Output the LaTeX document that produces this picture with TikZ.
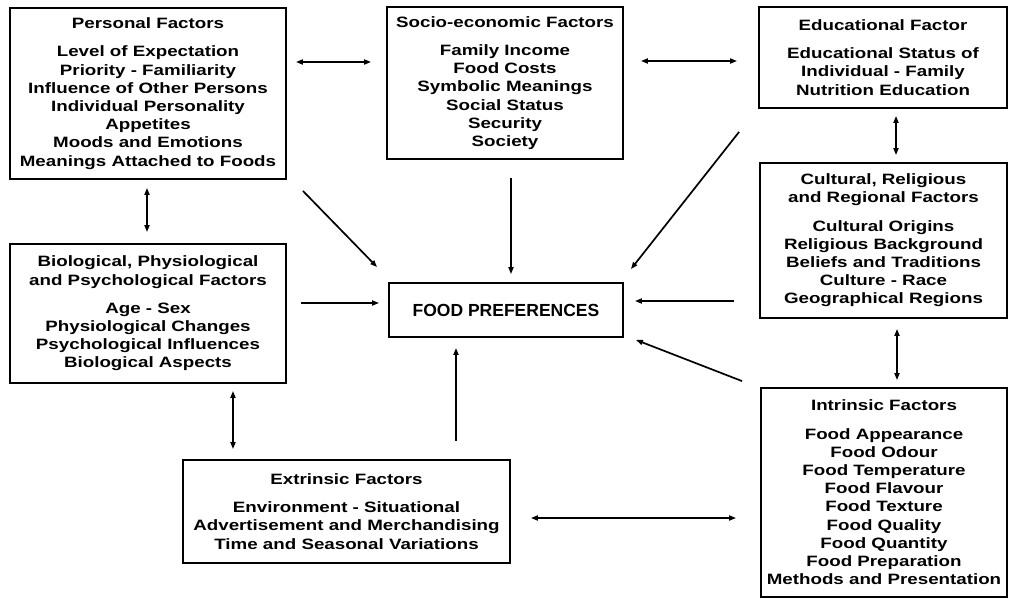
\documentclass[tikz,border=0pt]{standalone}
\usepackage{fontspec}
\newfontfamily\boxfont{Liberation Sans}[FakeStretch=1.25]
\newfontfamily\plainfont{Liberation Sans}
\usetikzlibrary{arrows.meta,calc}
\tikzset{
  box/.style={draw, line width=1.8pt, align=center, inner sep=0pt,
    font=\boxfont\bfseries\fontsize{15}{18.2}\selectfont},
  con/.style={line width=1.7pt, -{Triangle[length=7pt,width=5pt]}},
  dcon/.style={line width=1.7pt, {Triangle[length=7pt,width=5pt]}-{Triangle[length=7pt,width=5pt]}},
}
\begin{document}
\begin{tikzpicture}[x=1pt,y=-1pt]
\useasboundingbox (0,0) rectangle (1009,598);
\node[box, minimum width=276pt, minimum height=171pt] (pers) at (148,93.5)
  {Personal Factors\\[10pt]Level of Expectation\\Priority - Familiarity\\Influence of Other Persons\\Individual Personality\\Appetites\\Moods and Emotions\\Meanings Attached to Foods};
\node[box, minimum width=236pt, minimum height=152pt] (socio) at (505,83)
  {Socio-economic Factors\\[10pt]Family Income\\Food Costs\\Symbolic Meanings\\Social Status\\Security\\Society};
\node[box, minimum width=248pt, minimum height=101pt] (edu) at (883,57.5)
  {Educational Factor\\[10pt]Educational Status of\\Individual - Family\\Nutrition Education};
\node[box, minimum width=247pt, minimum height=155pt] (cult) at (883.5,240.5)
  {Cultural, Religious\\and Regional Factors\\[10pt]Cultural Origins\\Religious Background\\Beliefs and Traditions\\Culture - Race\\Geographical Regions};
\node[box, minimum width=276pt, minimum height=139pt] (bio) at (148,313.5)
  {Biological, Physiological\\and Psychological Factors\\[10pt]Age - Sex\\Physiological Changes\\Psychological Influences\\Biological Aspects};
\node[box, minimum width=234pt, minimum height=54pt, font=\plainfont\bfseries\fontsize{17.5}{20}\selectfont] (fp) at (506,310)
  {FOOD PREFERENCES};
\node[box, minimum width=327pt, minimum height=103pt] (extr) at (346.5,511.5)
  {Extrinsic Factors\\[10pt]Environment - Situational\\Advertisement and Merchandising\\Time and Seasonal Variations};
\node[box, minimum width=246pt, minimum height=209pt] (intr) at (884,492.5)
  {Intrinsic Factors\\[10pt]Food Appearance\\Food Odour\\Food Temperature\\Food Flavour\\Food Texture\\Food Quality\\Food Quantity\\Food Preparation\\Methods and Presentation};
% helper coordinates for connector positions
\coordinate (h62) at (0,62);
\coordinate (h61) at (0,61);
\coordinate (h303) at (0,303);
\coordinate (h301) at (0,301);
\coordinate (h518) at (0,518);
\coordinate (v147) at (147,0);
\coordinate (v511) at (511,0);
\coordinate (v896) at (896,0);
\coordinate (v897) at (897,0);
\coordinate (v456) at (456,0);
\coordinate (v233) at (233,0);
% connectors
\draw[dcon, shorten <=9pt, shorten >=15pt] (pers.east |- h62) -- (socio.west |- h62);
\draw[dcon, shorten <=17pt, shorten >=21pt] (socio.east |- h61) -- (edu.west |- h61);
\draw[dcon, shorten <=8pt, shorten >=11pt] (pers.south -| v147) -- (bio.north -| v147);
\draw[con] ($(pers.south east)+(16,11)$) -- ($(fp.north west)+(-11,-15)$);
\draw[con, shorten <=18pt, shorten >=8pt] (socio.south -| v511) -- (fp.north -| v511);
\draw[con] ($(edu.south west)+(-19,23)$) -- ($(fp.north east)+(7,-13)$);
\draw[con, shorten <=14pt, shorten >=9pt] (bio.east |- h303) -- (fp.west |- h303);
\draw[con, shorten <=25pt, shorten >=11pt] (cult.west |- h301) -- (fp.east |- h301);
\draw[con] ($(intr.north west)+(-18,-6)$) -- ($(fp.south east)+(12,2)$);
\draw[dcon, shorten <=7pt, shorten >=7pt] (edu.south -| v896) -- (cult.north -| v896);
\draw[dcon, shorten <=10pt, shorten >=7pt] (cult.south -| v897) -- (intr.north -| v897);
\draw[con, shorten <=18pt, shorten >=10pt] (extr.north -| v456) -- (fp.south -| v456);
\draw[dcon, shorten <=7pt, shorten >=10pt] (bio.south -| v233) -- (extr.north -| v233);
\draw[dcon, shorten <=20pt, shorten >=24pt] (extr.east |- h518) -- (intr.west |- h518);
\end{tikzpicture}
\end{document}
